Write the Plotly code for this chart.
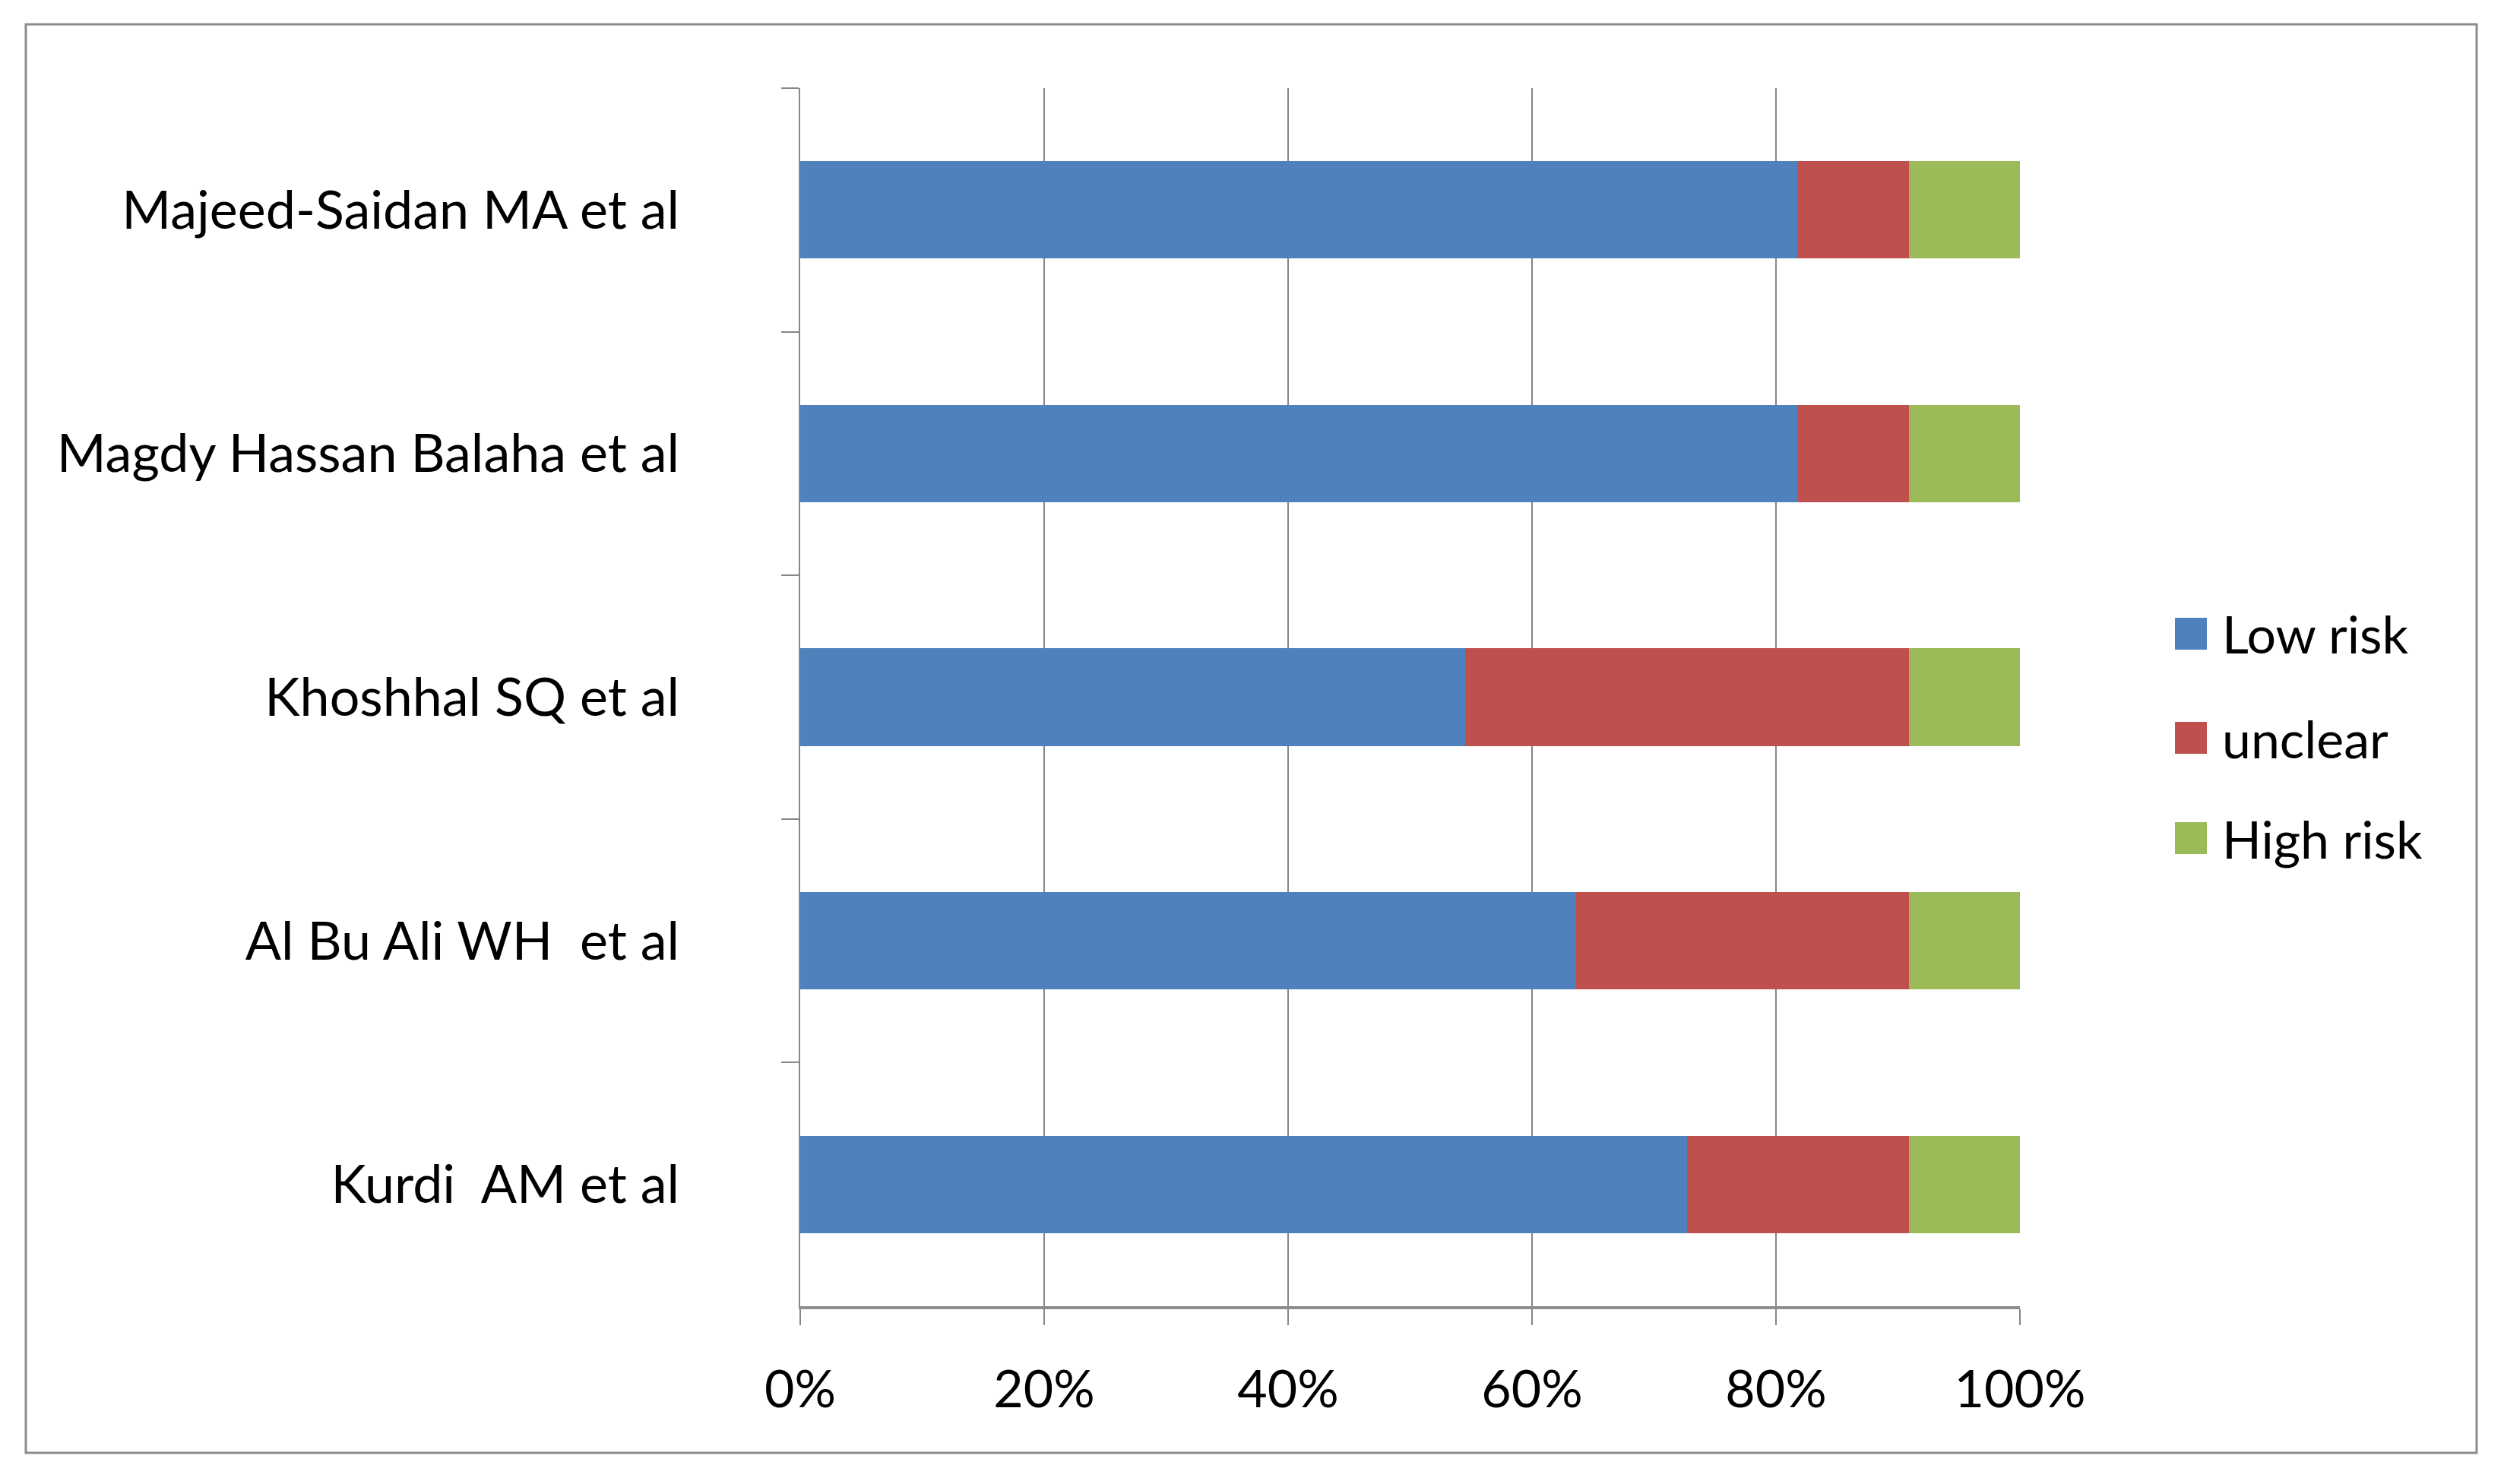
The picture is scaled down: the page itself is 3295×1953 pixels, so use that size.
import plotly.graph_objects as go

studies = ["Majeed-Saidan MA et al", "Magdy Hassan Balaha et al", "Khoshhal SQ et al",
           "Al Bu Ali WH  et al", "Kurdi  AM et al"]
low_risk = [9, 9, 6, 7, 8]
unclear = [1, 1, 4, 3, 2]
high_risk = [1, 1, 1, 1, 1]
series_names = ["Low risk", "unclear", "High risk"]
series_values = [low_risk, unclear, high_risk]
colors = ["#4F81BD", "#C0504D", "#9BBB59"]
x_ticks = [0, 20, 40, 60, 80, 100]
x_tick_labels = ["0%", "20%", "40%", "60%", "80%", "100%"]

FONT = "Lato"
fig = go.Figure()
for name, vals, col in zip(series_names, series_values, colors):
    fig.add_trace(go.Bar(y=studies, x=vals, name=name, orientation="h",
                         marker=dict(color=col, line=dict(width=0)),
                         showlegend=False))

W, H = 3295, 1953
OFF = 8  # page body margin
L, T = 1053 - OFF, 116 - OFF
pw, ph = 1605, 1603
R, B = W - L - pw, H - T - ph

def px_x(x):
    return (x - OFF - L) / pw

def px_y(y):
    return (T + ph - (y - OFF)) / ph

shapes = [dict(type="rect", xref="paper", yref="paper",
               x0=px_x(34), x1=px_x(3259), y0=px_y(1912), y1=px_y(32),
               line=dict(color="#8c8c8c", width=3), layer="below")]
annotations = []
leg_y = [834, 971, 1103]
for name, col, yc in zip(series_names, colors, leg_y):
    shapes.append(dict(type="rect", xref="paper", yref="paper",
                       x0=px_x(2862), x1=px_x(2904), y0=px_y(yc + 21), y1=px_y(yc - 21),
                       fillcolor=col, line=dict(width=0)))
    annotations.append(dict(text=name, xref="paper", yref="paper", x=px_x(2922), y=px_y(yc),
                            xanchor="left", yanchor="middle", showarrow=False,
                            font=dict(family=FONT, size=68, color="#000")))

fig.update_layout(
    width=W, height=H, barmode="stack", barnorm="percent", bargap=0.6,
    margin=dict(l=L, r=R, t=T, b=B),
    paper_bgcolor="white", plot_bgcolor="white",
    font=dict(family=FONT, size=68, color="#000"),
    shapes=shapes, annotations=annotations,
    xaxis=dict(range=[0, 100], tickvals=x_ticks, ticktext=x_tick_labels,
               tickfont=dict(size=68),
               showgrid=True, gridcolor="#868686", gridwidth=2,
               ticks="outside", ticklen=21, tickwidth=2, tickcolor="#868686",
               showline=True, linecolor="#8c8c8c", linewidth=4,
               ticklabelstandoff=26, zeroline=False),
    yaxis=dict(autorange=False, range=[4.5, -0.5], tickson="boundaries",
               tickfont=dict(size=70),
               ticks="outside", ticklen=23, tickwidth=2, tickcolor="#868686",
               showline=True, linecolor="#868686", linewidth=2,
               showgrid=False, ticklabelstandoff=143),
)
fig.write_html("out.html")
